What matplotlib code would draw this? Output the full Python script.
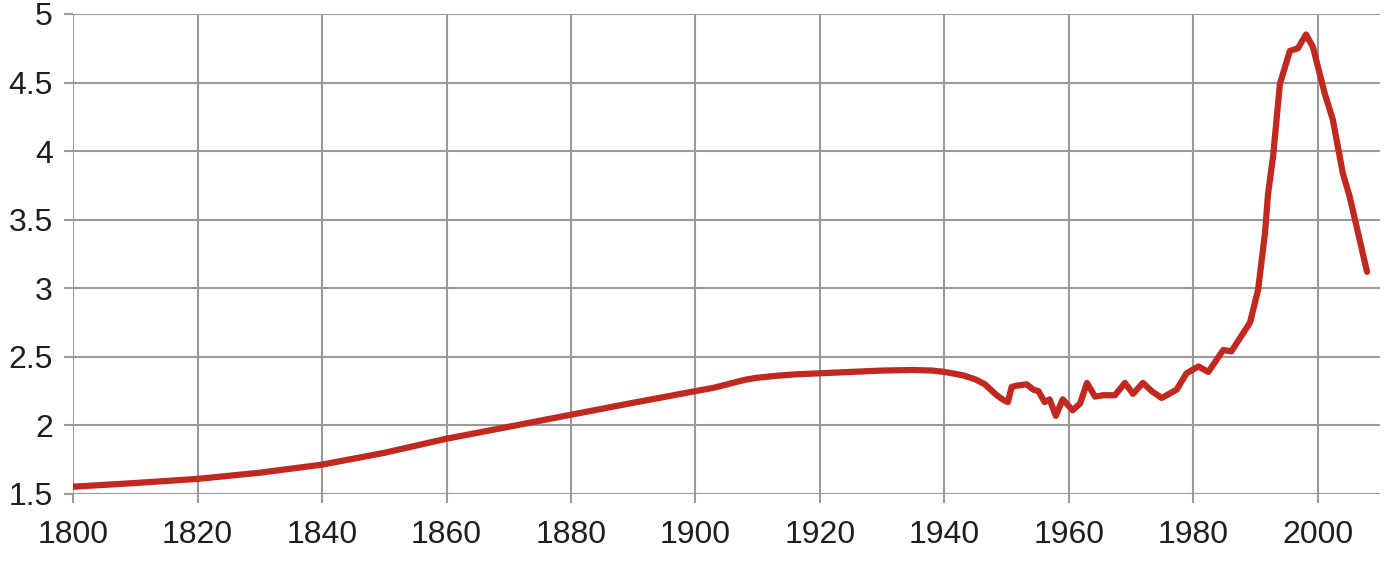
import matplotlib
matplotlib.use("Agg")
import matplotlib.pyplot as plt

# values
years = [1800, 1810, 1820, 1830, 1840, 1850, 1860, 1870, 1880, 1890,
         1900, 1903, 1906, 1908, 1910, 1913, 1916, 1920, 1925, 1930,
         1935, 1938, 1940, 1943, 1945, 1946.5, 1948.4, 1949.5, 1950.2, 1950.8,
         1951.6, 1953.2, 1954.3, 1955.1, 1956.1, 1956.9, 1957.9, 1959.0, 1960.6, 1961.8,
         1962.9, 1964.2, 1965.5, 1967.4, 1969.0, 1970.3, 1971.9, 1973.3, 1974.9, 1977.3,
         1978.9, 1980.8, 1982.4, 1984.8, 1986.1, 1989.1, 1990.4, 1991.5, 1992.0, 1992.8,
         1993.9, 1995.5, 1996.8, 1998.1, 1999.2, 2001.1, 2002.4, 2004.0, 2005.1, 2007.9]
values = [1.553, 1.58, 1.61, 1.655, 1.714, 1.80, 1.903, 1.99, 2.078, 2.165,
          2.25, 2.275, 2.31, 2.333, 2.348, 2.362, 2.372, 2.38, 2.39, 2.40,
          2.404, 2.40, 2.39, 2.365, 2.335, 2.30, 2.22, 2.185, 2.17, 2.28,
          2.29, 2.30, 2.26, 2.25, 2.17, 2.19, 2.07, 2.19, 2.11, 2.16,
          2.31, 2.21, 2.22, 2.22, 2.31, 2.23, 2.31, 2.25, 2.20, 2.26,
          2.38, 2.43, 2.39, 2.55, 2.54, 2.75, 2.99, 3.40, 3.69, 3.96,
          4.49, 4.73, 4.75, 4.85, 4.76, 4.42, 4.23, 3.84, 3.67, 3.12]

x_ticks = list(range(1800, 2001, 20))
y_ticks = [1.5, 2, 2.5, 3, 3.5, 4, 4.5, 5]
y_labels = ["1.5", "2", "2.5", "3", "3.5", "4", "4.5", "5"]

GRID = "#9a9a9a"
LINE = "#c1281f"

plt.rcParams['font.family'] = ['Liberation Sans', 'DejaVu Sans']

fig = plt.figure(figsize=(13.89, 5.65), dpi=100)
ax = fig.add_axes([0.0526, 0.1257, 0.941, 0.8496])

ax.plot(years, values, color=LINE, linewidth=4.5, solid_capstyle='round',
        solid_joinstyle='round', zorder=3)

ax.set_xlim(1800, 2010)
ax.set_ylim(1.5, 5)
ax.set_xticks(x_ticks)
ax.set_yticks(y_ticks)
ax.set_yticklabels(y_labels)

ax.grid(True, color=GRID, linewidth=1.5)
for s in ax.spines.values():
    s.set_visible(False)
ax.tick_params(axis='both', length=6.5, width=1.5, color=GRID,
               labelsize=23, labelcolor="#1e1e1e")
ax.tick_params(axis='x', pad=12)
ax.tick_params(axis='y', pad=8)

plt.savefig("out.png", dpi=100)
plt.close()
